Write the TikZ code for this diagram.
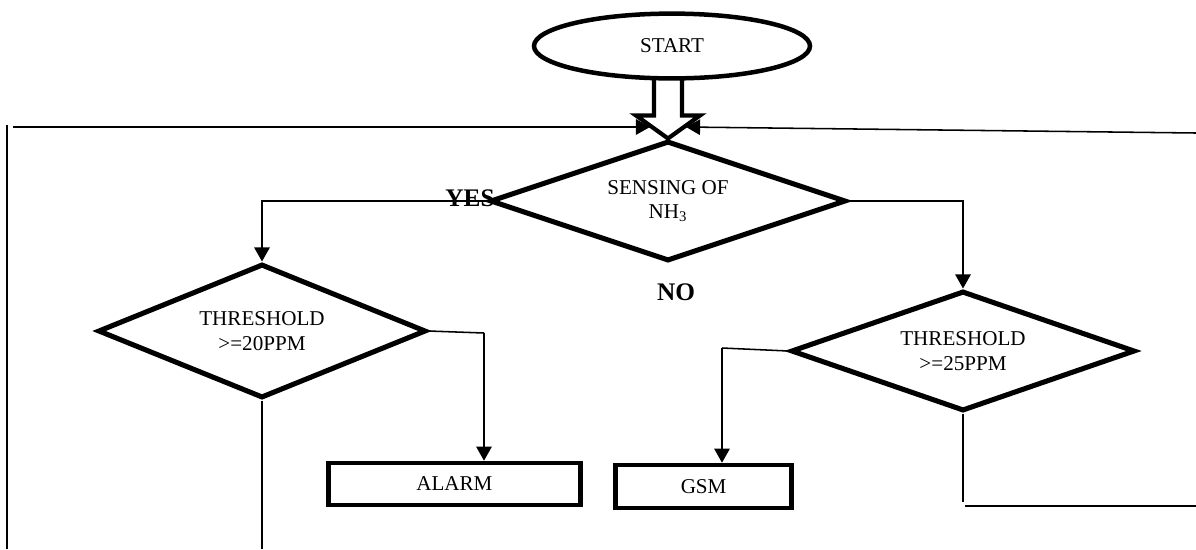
\documentclass[tikz,border=0pt]{standalone}
\usepackage{fontspec}
\setmainfont{Liberation Serif}
\usetikzlibrary{shapes.geometric,arrows.meta}

\begin{document}
\begin{tikzpicture}[
        link/.style={line width=1.1pt},
        flow/.style={line width=1.1pt, -{Triangle[length=10pt,width=11pt]}},
        terminal/.style={ellipse, draw, line width=3.2pt, inner sep=0pt, font=\fontsize{15}{17}\selectfont},
        decision/.style={diamond, draw, line width=3.6pt, inner sep=0pt, align=center, font=\fontsize{15}{17.5}\selectfont},
        process/.style={rectangle, draw, line width=3pt, inner sep=0pt, font=\fontsize{15}{17}\selectfont},
        answer/.style={font=\bfseries\fontsize{18}{20}\selectfont}]
        \useasboundingbox (0,0) rectangle (29.9,-13.725);

        % nodes
        \node[terminal, minimum width=6.9cm, minimum height=1.62cm] (start) at (16.8,-1.15) {START};
        \node[decision, aspect=3, minimum width=8.9cm, minimum height=3cm] (sense) at (16.7,-5.025) {SENSING OF\\NH\textsubscript{3}};
        \node[decision, aspect=2.5, minimum width=8.2cm, minimum height=3.35cm] (th20) at (6.55,-8.275) {THRESHOLD\\>=20PPM};
        \node[decision, aspect=2.8, minimum width=8.6cm, minimum height=3cm] (th25) at (24.075,-8.775) {THRESHOLD\\>=25PPM};
        \node[process, minimum width=6.3cm, minimum height=1.06cm] (alarm) at (11.36,-12.1) {ALARM};
        \node[process, minimum width=4.4cm, minimum height=1.08cm] (gsm) at (17.59,-12.16) {GSM};

        % labels
        \node[answer] (yes) at (11.75,-4.95) {YES};
        \node[answer] (no) at (16.9,-7.3) {NO};

        % hollow arrow
        \draw[line width=3pt] (sense.north) ++(-0.35,1.525) -- ++(0,-0.95) -- ++(-0.45,0) -- (sense.north) -- ++(0.8,0.575) -- ++(-0.45,0) -- ++(0,0.95);

        % loop back
        \coordinate (inL) at (16.25,-3.175);
        \coordinate (inR) at (17.15,-3.175);
        \coordinate (lbot) at (0.175,-13.725);
        \coordinate (ltop) at (0.175,-3.125);
        \coordinate (lstart) at (0.325,-3.175);
        \coordinate (rstart) at (29.9,-3.325);
        \draw[link] (lbot) -- (ltop);
        \draw[flow] (lstart) -- (inL);
        \draw[flow] (rstart) -- (inR);

        % branches
        \draw[flow] (sense.west) -| (th20.north);
        \draw[flow] (sense.east) -| (th25.north);
        \coordinate (a1) at (12.1,-8.325);
        \draw[link] (th20.east) -- (a1);
        \draw[flow] (a1) -- (a1 |- alarm.north);
        \coordinate (g1) at (18.05,-8.7);
        \draw[link] (th25.west) -- (g1);
        \draw[flow] (g1) -- (g1 |- gsm.north);
        \coordinate (b1) at (6.55,-13.725);
        \draw[link] (th20.south) -- (b1);
        \coordinate (c1) at (24.075,-12.55);
        \coordinate (c2) at (24.125,-12.65);
        \coordinate (c3) at (29.9,-12.65);
        \draw[link] (th25.south) -- (c1);
        \draw[link] (c2) -- (c3);
    \end{tikzpicture}
\end{document}
